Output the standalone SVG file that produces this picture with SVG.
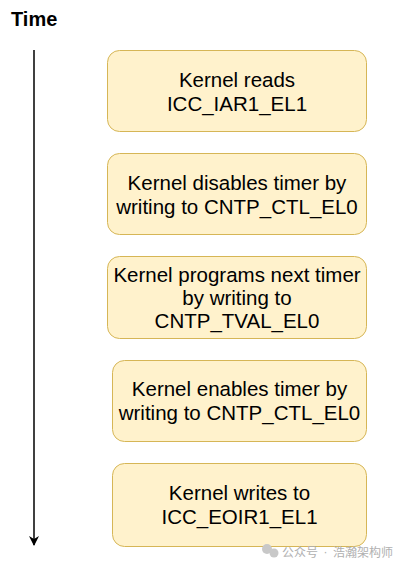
<svg xmlns="http://www.w3.org/2000/svg" width="404" height="568" viewBox="0 0 404 568">
<style>
.box{fill:#fff2cc;stroke:#d6b656;stroke-width:1}
.t{font-family:"Liberation Sans",Arial,sans-serif;font-size:20.5px;fill:#000;text-anchor:middle}
.title{font-family:"Liberation Sans",Arial,sans-serif;font-size:20px;font-weight:bold;fill:#000}
.wm{font-family:"Noto Sans CJK SC",sans-serif;font-size:12px;fill:#b0b0b0}
.dot{font-family:"Liberation Sans",Arial,sans-serif;font-size:12px;fill:#b0b0b0;text-anchor:middle}
</style>
<defs>
<marker id="ah" viewBox="0 0 10 10" refX="9" refY="5" markerWidth="10" markerHeight="10" markerUnits="userSpaceOnUse" orient="auto">
<path d="M0,0 L10,5 L0,10 L3,5 Z" fill="#000"/>
</marker>
</defs>
<text class="title" x="11" y="26">Time</text>
<g id="connectors">
<line x1="34" y1="50" x2="34" y2="545" stroke="#000" stroke-width="1.5" marker-end="url(#ah)"/>
</g>
<g id="n1">
<rect class="box" x="107.5" y="50.5" width="259" height="81" rx="12"/>
<text class="t" x="237" y="87">Kernel reads</text>
<text class="t" x="237" y="110.5">ICC_IAR1_EL1</text>
</g>
<g id="n2">
<rect class="box" x="107.5" y="153.5" width="259" height="81" rx="12"/>
<text class="t" x="237" y="190">Kernel disables timer by</text>
<text class="t" x="237" y="213.5">writing to CNTP_CTL_EL0</text>
</g>
<g id="n3">
<rect class="box" x="107.5" y="256.5" width="259" height="82" rx="12"/>
<text class="t" x="237" y="282">Kernel programs next timer</text>
<text class="t" x="237" y="305">by writing to</text>
<text class="t" x="237" y="328">CNTP_TVAL_EL0</text>
</g>
<g id="n4">
<rect class="box" x="112.5" y="360.5" width="254" height="81" rx="12"/>
<text class="t" x="239.5" y="396">Kernel enables timer by</text>
<text class="t" x="239.5" y="420">writing to CNTP_CTL_EL0</text>
</g>
<g id="n5">
<rect class="box" x="112.5" y="463.5" width="254" height="83" rx="12"/>
<text class="t" x="239.5" y="499.5">Kernel writes to</text>
<text class="t" x="239.5" y="523.5">ICC_EOIR1_EL1</text>
</g>
<g id="watermark">
<circle cx="267" cy="549" r="5" fill="#c8c8c8"/>
<circle cx="274" cy="553" r="4.5" fill="#c8c8c8"/>
<text class="wm" x="282" y="557">公众号</text>
<text class="dot" x="325.5" y="556">·</text>
<text class="wm" x="333" y="557">浩瀚架构师</text>
</g>
</svg>
